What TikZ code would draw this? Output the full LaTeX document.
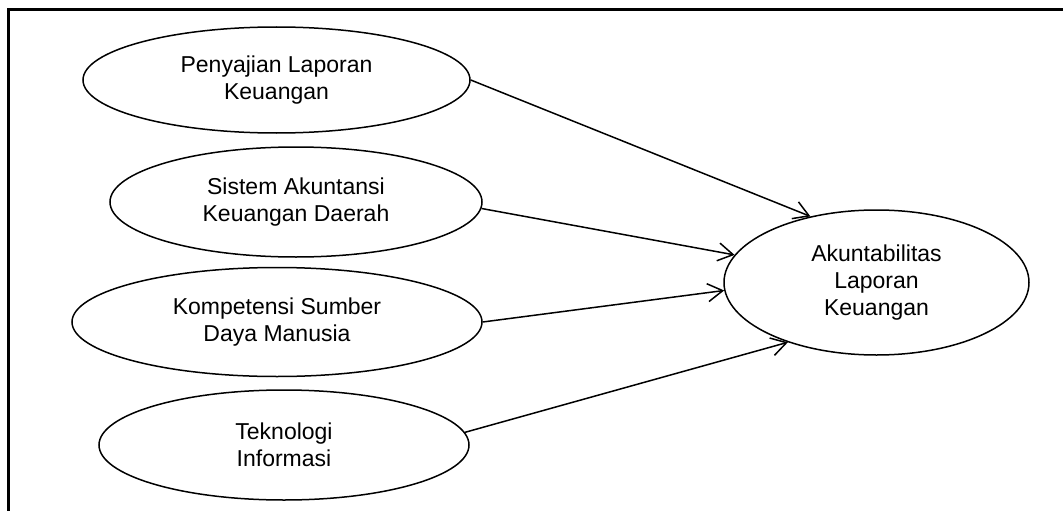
\documentclass[tikz,border=0pt]{standalone}
\usepackage{fontspec}
\setmainfont{Liberation Sans}
\usetikzlibrary{shapes.geometric,arrows.meta}
\begin{document}
\begin{tikzpicture}[x=1pt,y=-1pt,
  oval/.style={ellipse,draw,line width=1.5pt,inner sep=0pt,align=center,
    font=\fontsize{23}{27}\selectfont},
  link/.style={line width=1.5pt,-{Straight Barb[length=15pt,width=18pt,line width=1.5pt]}},
  frameline/.style={line width=3pt}]
\useasboundingbox (0,0) rectangle (1063,511);
\coordinate (fb) at (8.5,511);
\coordinate (fc) at (8.5,9.5);
\coordinate (fr) at (1063,9.5);
\draw[frameline] (fb) -- (fc) -- (fr);
\node[oval,minimum width=387pt,minimum height=106pt] (e1) at (276.5,80) {Penyajian Laporan\\Keuangan};
\node[oval,minimum width=372pt,minimum height=110pt] (e2) at (296,202) {Sistem Akuntansi\\Keuangan Daerah};
\node[oval,minimum width=410pt,minimum height=109pt] (e3) at (277,322) {Kompetensi Sumber\\Daya Manusia};
\node[oval,minimum width=370pt,minimum height=110pt] (e4) at (284,445) {Teknologi\\Informasi};
\node[oval,minimum width=305pt,minimum height=145pt] (t) at (876.5,282.5) {Akuntabilitas\\Laporan\\Keuangan};
\draw[link] (e1.east) -- (t.135);
\draw[link] (e2.-2) -- (t.169.5);
\draw[link] (e3.east) -- (t.183.6);
\draw[link] (e4.4) -- (t.214.5);
\end{tikzpicture}
\end{document}
